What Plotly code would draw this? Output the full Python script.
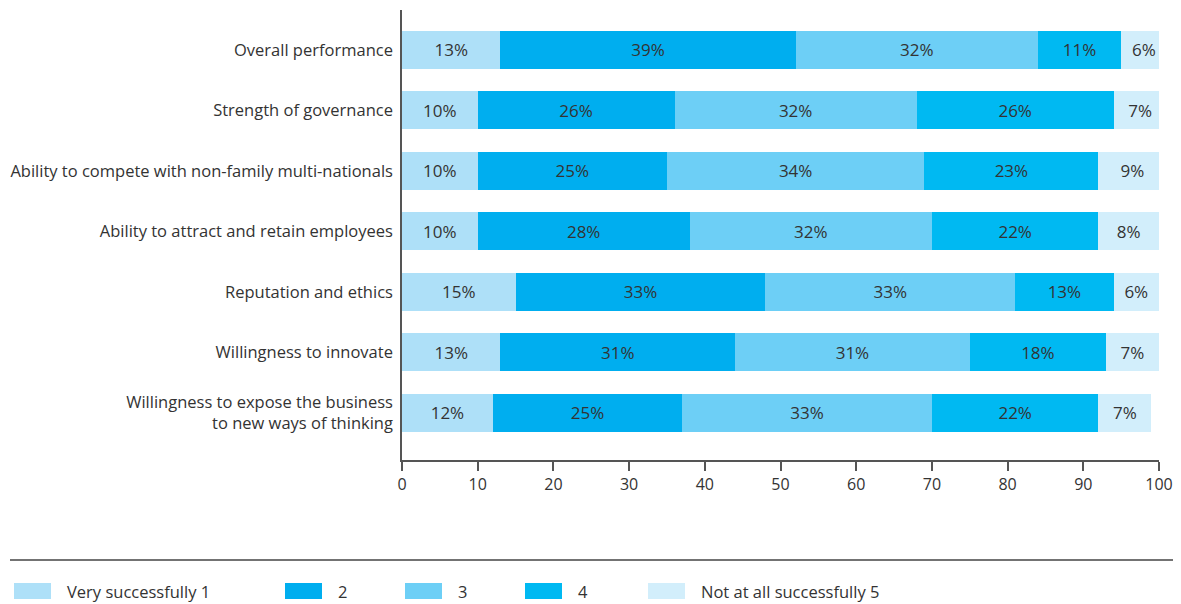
import plotly.graph_objects as go

categories = [
    "Overall performance",
    "Strength of governance",
    "Ability to compete with non-family multi-nationals",
    "Ability to attract and retain employees",
    "Reputation and ethics",
    "Willingness to innovate",
    "Willingness to expose the business<br>to new ways of thinking",
]
series_names = ["Very successfully 1", "2", "3", "4", "Not at all successfully 5"]
very_successfully = [13, 10, 10, 10, 15, 13, 12]
score_2 = [39, 26, 25, 28, 33, 31, 25]
score_3 = [32, 32, 34, 32, 33, 31, 33]
score_4 = [11, 26, 23, 22, 13, 18, 22]
not_at_all = [6, 7, 9, 8, 6, 7, 7]
x_ticks = list(range(0, 101, 10))

colors = ["#aee0f8", "#00aeef", "#6dcff6", "#00b9f2", "#d2eefb"]
series = [very_successfully, score_2, score_3, score_4, not_at_all]

font = "Open Sans, Noto Sans, sans-serif"
# page body has an 8px margin, so the figure is shifted; sizes below are in figure px
W, H = 1173, 596
L, R, T, B = 394, 22, 2, 144
pw, ph = W - L - R, H - T - B

fig = go.Figure()
for name, vals, col in zip(series_names, series, colors):
    fig.add_trace(go.Bar(
        y=categories[::-1], x=vals[::-1], name=name, orientation="h",
        marker=dict(color=col, line=dict(width=0)),
        text=[f"{v}%" for v in vals[::-1]], textposition="inside",
        insidetextanchor="middle", textangle=0,
        textfont=dict(color="#333333", size=17, family=font),
        showlegend=False,
    ))

fig.update_layout(
    barmode="stack", bargap=0.37,
    width=W, height=H,
    margin=dict(l=L, r=R, t=T, b=B),
    plot_bgcolor="white", paper_bgcolor="white",
    font=dict(family=font, size=16, color="#333333"),
    uniformtext=dict(minsize=10, mode="show"),
    xaxis=dict(range=[0, 100], tickvals=x_ticks, showgrid=False, zeroline=False,
               showline=True, linecolor="#555555", linewidth=1.5,
               ticks="outside", ticklen=9, tickcolor="#555555", tickwidth=1.5,
               tickfont=dict(size=16, color="#333333")),
    yaxis=dict(range=[-0.78, 6.66], showgrid=False, zeroline=False,
               showline=True, linecolor="#555555", linewidth=1.5,
               ticks="", ticklabelstandoff=4,
               tickfont=dict(size=16.5, color="#333333")),
)


def px(x):
    return (x - L) / pw


def py(y):
    return (H - B - y) / ph


# horizontal rule above the legend
fig.add_shape(type="line", xref="paper", yref="paper",
              x0=px(2), x1=px(W), y0=py(552), y1=py(552),
              line=dict(color="#444444", width=1.5))

# manual legend
legend_x = [6, 277, 397, 517, 640]
legend_y = 583
for lx, name, col in zip(legend_x, series_names, colors):
    fig.add_shape(type="rect", xref="paper", yref="paper",
                  x0=px(lx), x1=px(lx + 37),
                  y0=py(legend_y - 8), y1=py(legend_y + 8),
                  fillcolor=col, line=dict(width=0))
    fig.add_annotation(xref="paper", yref="paper", x=px(lx + 51),
                       y=py(legend_y), text=name, showarrow=False,
                       xanchor="left", yanchor="middle",
                       font=dict(size=16.5, color="#333333", family=font))

fig.write_html("out.html")
